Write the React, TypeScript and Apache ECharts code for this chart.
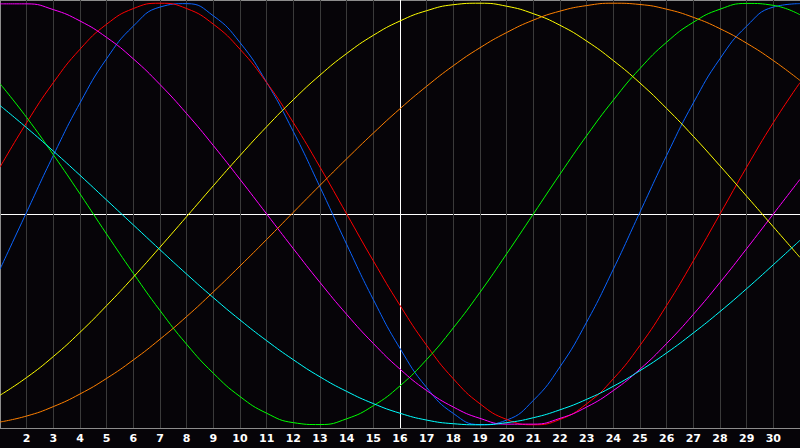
import React, { useEffect, useRef } from "react";
import * as echarts from "echarts";

// Days shown on the x axis (1 .. 31); labels only for 2 .. 30
const days = [1, 2, 3, 4, 5, 6, 7, 8, 9, 10, 11, 12, 13, 14, 15, 16, 17, 18, 19, 20, 21, 22, 23, 24, 25, 26, 27, 28, 29, 30, 31];
const tickLabels = ["2", "3", "4", "5", "6", "7", "8", "9", "10", "11", "12", "13", "14", "15", "16", "17", "18", "19", "20", "21", "22", "23", "24", "25", "26", "27", "28", "29", "30"];
const todayDay = 16;

// Cycle values (-100 .. 100), one per day
const blueCycle = [-25.8, 0.9, 27.4, 51.9, 72.6, 87.8, 96.7, 98.3, 92.6, 80.1, 61.5, 38.5, 12.6, -14.2, -40.0, -62.8, -81.1, -93.2, -98.4, -96.3, -87.1, -71.4, -50.5, -25.8, 0.9, 27.4, 51.9, 72.6, 87.8, 96.7, 98.3];
const redCycle = [21.9, 42.7, 61.4, 77.0, 88.7, 96.0, 98.5, 96.0, 88.7, 77.0, 61.4, 42.7, 21.9, 0, -21.9, -42.7, -61.4, -77.0, -88.7, -96.0, -98.5, -96.0, -88.7, -77.0, -61.4, -42.7, -21.9, 0, 21.9, 42.7, 61.4];
const greenCycle = [60.9, 45.1, 27.7, 9.4, -9.4, -27.7, -45.1, -60.9, -74.4, -85.3, -93.1, -97.5, -98.4, -95.7, -89.6, -80.3, -68.0, -53.2, -36.6, -18.6, 0, 18.6, 36.6, 53.2, 68.0, 80.3, 89.6, 95.7, 98.4, 97.5, 93.1];
const magentaCycle = [98.2, 98.2, 95.5, 90.2, 82.5, 72.5, 60.5, 46.9, 32.0, 16.2, 0, -16.2, -32.0, -46.9, -60.5, -72.5, -82.5, -90.2, -95.5, -98.2, -98.2, -95.5, -90.2, -82.5, -72.5, -60.5, -46.9, -32.0, -16.2, 0, 16.2];
const yellowCycle = [-84.7, -76.4, -66.6, -55.3, -42.8, -29.5, -15.5, -1.2, 13.2, 27.3, 40.8, 53.4, 64.9, 75.0, 83.5, 90.2, 95.0, 97.8, 98.5, 97.1, 93.6, 88.2, 80.8, 71.7, 61.2, 49.3, 36.3, 22.5, 8.3, -6.0, -20.3];
const orangeCycle = [-97.2, -94.4, -90.0, -84.1, -76.8, -68.2, -58.5, -47.9, -36.4, -24.3, -11.9, 0.8, 13.4, 25.8, 37.8, 49.2, 59.7, 69.3, 77.7, 84.8, 90.6, 94.8, 97.4, 98.5, 97.9, 95.7, 91.9, 86.6, 79.8, 71.7, 62.4];
const cyanCycle = [50.7, 40.3, 29.4, 18.1, 6.5, -5.1, -16.7, -28.1, -39.1, -49.5, -59.2, -68.1, -76.1, -82.9, -88.6, -93.1, -96.3, -98.0, -98.5, -97.5, -95.2, -91.5, -86.6, -80.5, -73.2, -64.9, -55.6, -45.6, -34.9, -23.7, -12.3];

const BG = "#060408";
const BORDER = "#8c8c8c";
const GRIDLINE = "#3a3a3a";

const seriesDefs = [
  { name: "blue", values: blueCycle, color: "#0a64ff" },
  { name: "red", values: redCycle, color: "#ff0000" },
  { name: "green", values: greenCycle, color: "#00ff00" },
  { name: "magenta", values: magentaCycle, color: "#ff00ff" },
  { name: "yellow", values: yellowCycle, color: "#ffff00" },
  { name: "orange", values: orangeCycle, color: "#ff8000" },
  { name: "cyan", values: cyanCycle, color: "#00ffff" },
];

export default function App() {
  const ref = useRef<HTMLDivElement>(null);

  useEffect(() => {
    document.body.style.margin = "0";
    document.body.style.background = BG;
    const chart = echarts.init(ref.current!, null, { renderer: "svg" });
    const xLineColors = days.map((d) => (d === todayDay ? "#ffffff" : GRIDLINE));
    chart.setOption({
      animation: false,
      backgroundColor: BG,
      grid: { left: 0, right: 0, top: 0, bottom: 20, containLabel: false, outerBoundsMode: "none" },
      xAxis: {
        type: "value",
        min: 1,
        max: 31,
        interval: 1,
        axisLine: { show: true, onZero: false, lineStyle: { color: BORDER, width: 1 } },
        axisTick: { show: false },
        axisLabel: {
          color: "#ffffff",
          fontWeight: "bold",
          fontSize: 11,
          fontFamily: "DejaVu Sans",
          margin: 5,
          formatter: (v: number) => (tickLabels.includes(String(v)) ? String(v) : ""),
        },
        splitLine: { show: true, showMaxLine: false, lineStyle: { color: xLineColors, width: 1 } },
      },
      yAxis: {
        type: "value",
        min: -100,
        max: 100,
        interval: 100,
        axisLine: { show: true, onZero: false, lineStyle: { color: BORDER, width: 1 } },
        axisTick: { show: false },
        axisLabel: { show: false },
        splitLine: { show: true, lineStyle: { color: [BORDER, "#ffffff", BORDER], width: 1 } },
      },
      series: seriesDefs.map((s) => ({
        name: s.name,
        type: "line",
        data: days.map((d, i) => [d, s.values[i]]),
        smooth: 0.5,
        symbol: "none",
        showSymbol: false,
        silent: true,
        lineStyle: { color: s.color, width: 1 },
        itemStyle: { color: s.color },
      })),
    });
    return () => chart.dispose();
  }, []);

  return <div ref={ref} style={{ width: 800, height: 448 }} />;
}
